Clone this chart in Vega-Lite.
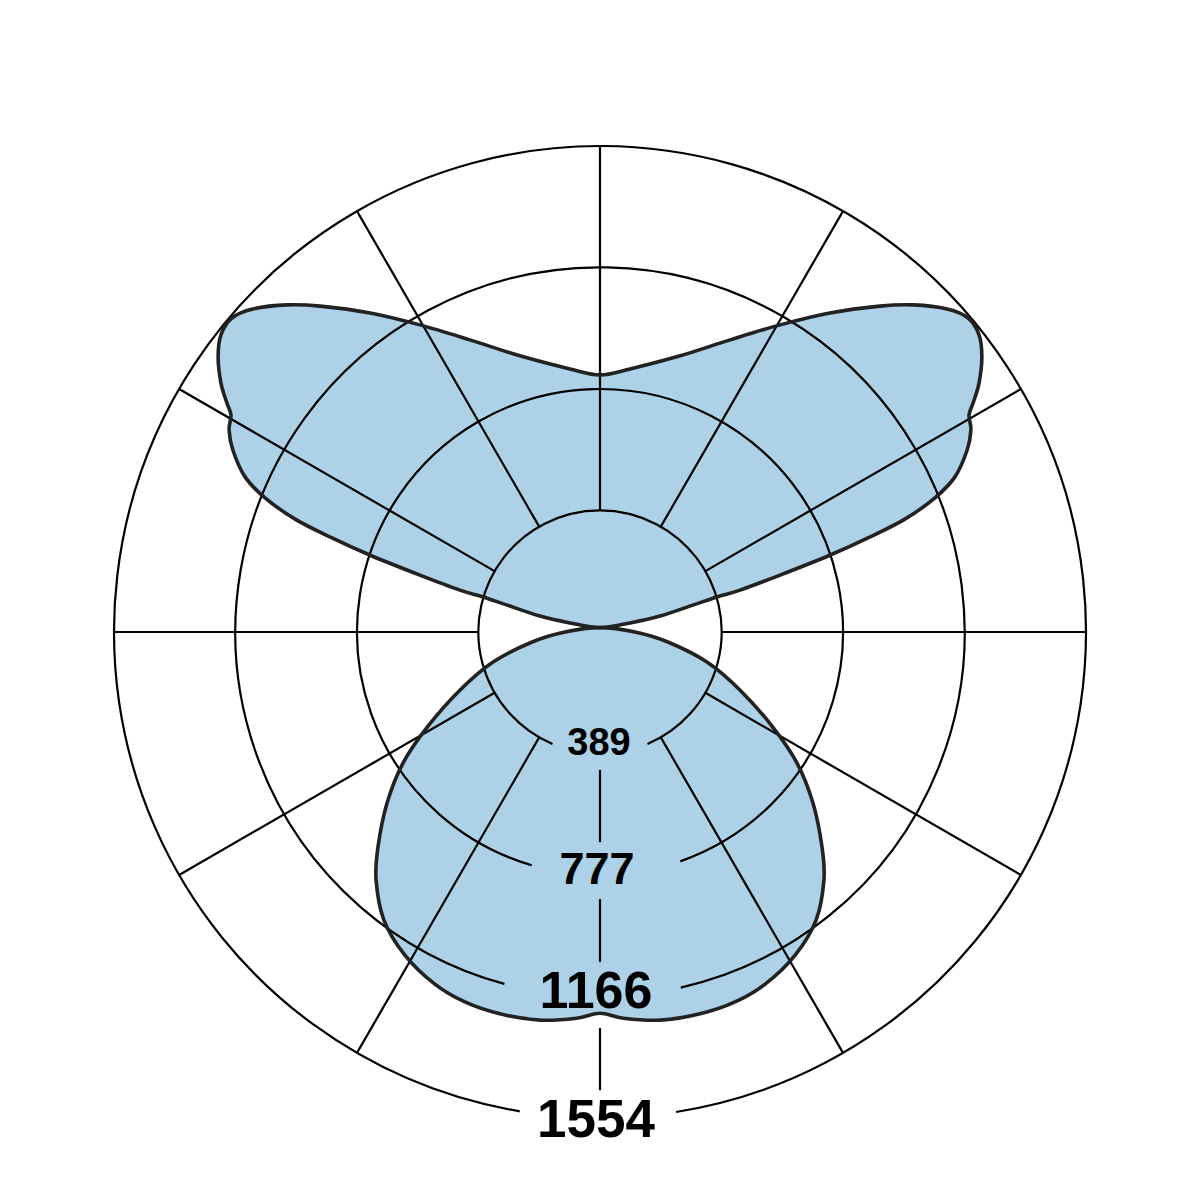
{
  "$schema": "https://vega.github.io/schema/vega-lite/v6.json",
  "width": 1201,
  "height": 1201,
  "padding": 0,
  "autosize": {"type": "none"},
  "background": "white",
  "config": {"view": {"stroke": null}},
  "datasets": {
    "curve": [
      {"lobe": "upper", "i": 0, "x": 0, "y": 14},
      {"lobe": "upper", "i": 1, "x": -96, "y": 29},
      {"lobe": "upper", "i": 2, "x": -192, "y": 51},
      {"lobe": "upper", "i": 3, "x": -297, "y": 86},
      {"lobe": "upper", "i": 4, "x": -374, "y": 112},
      {"lobe": "upper", "i": 5, "x": -448, "y": 134},
      {"lobe": "upper", "i": 6, "x": -576, "y": 182},
      {"lobe": "upper", "i": 7, "x": -729, "y": 243},
      {"lobe": "upper", "i": 8, "x": -857, "y": 301},
      {"lobe": "upper", "i": 9, "x": -975, "y": 361},
      {"lobe": "upper", "i": 10, "x": -1071, "y": 429},
      {"lobe": "upper", "i": 11, "x": -1135, "y": 496},
      {"lobe": "upper", "i": 12, "x": -1174, "y": 582},
      {"lobe": "upper", "i": 13, "x": -1186, "y": 646},
      {"lobe": "upper", "i": 14, "x": -1180, "y": 694},
      {"lobe": "upper", "i": 15, "x": -1193, "y": 732},
      {"lobe": "upper", "i": 16, "x": -1212, "y": 796},
      {"lobe": "upper", "i": 17, "x": -1221, "y": 879},
      {"lobe": "upper", "i": 18, "x": -1212, "y": 950},
      {"lobe": "upper", "i": 19, "x": -1177, "y": 1004},
      {"lobe": "upper", "i": 20, "x": -1110, "y": 1033},
      {"lobe": "upper", "i": 21, "x": -1001, "y": 1046},
      {"lobe": "upper", "i": 22, "x": -895, "y": 1042},
      {"lobe": "upper", "i": 23, "x": -735, "y": 1020},
      {"lobe": "upper", "i": 24, "x": -576, "y": 982},
      {"lobe": "upper", "i": 25, "x": -416, "y": 934},
      {"lobe": "upper", "i": 26, "x": -256, "y": 883},
      {"lobe": "upper", "i": 27, "x": -96, "y": 841},
      {"lobe": "upper", "i": 28, "x": 0, "y": 822},
      {"lobe": "upper", "i": 29, "x": 96, "y": 841},
      {"lobe": "upper", "i": 30, "x": 256, "y": 883},
      {"lobe": "upper", "i": 31, "x": 416, "y": 934},
      {"lobe": "upper", "i": 32, "x": 576, "y": 982},
      {"lobe": "upper", "i": 33, "x": 735, "y": 1020},
      {"lobe": "upper", "i": 34, "x": 895, "y": 1042},
      {"lobe": "upper", "i": 35, "x": 1001, "y": 1046},
      {"lobe": "upper", "i": 36, "x": 1110, "y": 1033},
      {"lobe": "upper", "i": 37, "x": 1177, "y": 1004},
      {"lobe": "upper", "i": 38, "x": 1212, "y": 950},
      {"lobe": "upper", "i": 39, "x": 1221, "y": 879},
      {"lobe": "upper", "i": 40, "x": 1212, "y": 796},
      {"lobe": "upper", "i": 41, "x": 1193, "y": 732},
      {"lobe": "upper", "i": 42, "x": 1180, "y": 694},
      {"lobe": "upper", "i": 43, "x": 1186, "y": 646},
      {"lobe": "upper", "i": 44, "x": 1174, "y": 582},
      {"lobe": "upper", "i": 45, "x": 1135, "y": 496},
      {"lobe": "upper", "i": 46, "x": 1071, "y": 429},
      {"lobe": "upper", "i": 47, "x": 975, "y": 361},
      {"lobe": "upper", "i": 48, "x": 857, "y": 301},
      {"lobe": "upper", "i": 49, "x": 729, "y": 243},
      {"lobe": "upper", "i": 50, "x": 576, "y": 182},
      {"lobe": "upper", "i": 51, "x": 448, "y": 134},
      {"lobe": "upper", "i": 52, "x": 374, "y": 112},
      {"lobe": "upper", "i": 53, "x": 297, "y": 86},
      {"lobe": "upper", "i": 54, "x": 192, "y": 51},
      {"lobe": "upper", "i": 55, "x": 96, "y": 29},
      {"lobe": "lower", "i": 0, "x": 0, "y": 14},
      {"lobe": "lower", "i": 1, "x": 112, "y": 0},
      {"lobe": "lower", "i": 2, "x": 217, "y": -32},
      {"lobe": "lower", "i": 3, "x": 342, "y": -96},
      {"lobe": "lower", "i": 4, "x": 448, "y": -186},
      {"lobe": "lower", "i": 5, "x": 550, "y": -301},
      {"lobe": "lower", "i": 6, "x": 630, "y": -419},
      {"lobe": "lower", "i": 7, "x": 681, "y": -547},
      {"lobe": "lower", "i": 8, "x": 710, "y": -688},
      {"lobe": "lower", "i": 9, "x": 716, "y": -793},
      {"lobe": "lower", "i": 10, "x": 691, "y": -921},
      {"lobe": "lower", "i": 11, "x": 624, "y": -1033},
      {"lobe": "lower", "i": 12, "x": 528, "y": -1126},
      {"lobe": "lower", "i": 13, "x": 432, "y": -1183},
      {"lobe": "lower", "i": 14, "x": 320, "y": -1221},
      {"lobe": "lower", "i": 15, "x": 192, "y": -1241},
      {"lobe": "lower", "i": 16, "x": 75, "y": -1235},
      {"lobe": "lower", "i": 17, "x": 0, "y": -1219},
      {"lobe": "lower", "i": 18, "x": -75, "y": -1235},
      {"lobe": "lower", "i": 19, "x": -192, "y": -1241},
      {"lobe": "lower", "i": 20, "x": -320, "y": -1221},
      {"lobe": "lower", "i": 21, "x": -432, "y": -1183},
      {"lobe": "lower", "i": 22, "x": -528, "y": -1126},
      {"lobe": "lower", "i": 23, "x": -624, "y": -1033},
      {"lobe": "lower", "i": 24, "x": -691, "y": -921},
      {"lobe": "lower", "i": 25, "x": -716, "y": -793},
      {"lobe": "lower", "i": 26, "x": -710, "y": -688},
      {"lobe": "lower", "i": 27, "x": -681, "y": -547},
      {"lobe": "lower", "i": 28, "x": -630, "y": -419},
      {"lobe": "lower", "i": 29, "x": -550, "y": -301},
      {"lobe": "lower", "i": 30, "x": -448, "y": -186},
      {"lobe": "lower", "i": 31, "x": -342, "y": -96},
      {"lobe": "lower", "i": 32, "x": -217, "y": -32},
      {"lobe": "lower", "i": 33, "x": -112, "y": 0}
    ],
    "rings": [
      {"r": 389, "t1": 203, "t2": 517, "label": "389", "nadir": -389},
      {"r": 777, "t1": 196.3, "t2": 520.7, "label": "777", "nadir": -777},
      {"r": 1166, "t1": 195.2, "t2": 527.2, "label": "1166", "nadir": -1166},
      {"r": 1554, "t1": 189.5, "t2": 531, "label": "1554", "nadir": -1554}
    ],
    "spokes": [
      {"x1": 194.5, "y1": -336.9, "x2": 777, "y2": -1345.8},
      {"x1": 336.9, "y1": -194.5, "x2": 1345.8, "y2": -777},
      {"x1": 389, "y1": 0, "x2": 1554, "y2": 0},
      {"x1": 336.9, "y1": 194.5, "x2": 1345.8, "y2": 777},
      {"x1": 194.5, "y1": 336.9, "x2": 777, "y2": 1345.8},
      {"x1": 0, "y1": 389, "x2": 0, "y2": 1554},
      {"x1": -194.5, "y1": 336.9, "x2": -777, "y2": 1345.8},
      {"x1": -336.9, "y1": 194.5, "x2": -1345.8, "y2": 777},
      {"x1": -389, "y1": 0, "x2": -1554, "y2": 0},
      {"x1": -336.9, "y1": -194.5, "x2": -1345.8, "y2": -777},
      {"x1": -194.5, "y1": -336.9, "x2": -777, "y2": -1345.8},
      {"x1": 0, "y1": -441, "x2": 0, "y2": -672},
      {"x1": 0, "y1": -854, "x2": 0, "y2": -1055},
      {"x1": 0, "y1": -1266, "x2": 0, "y2": -1465}
    ]
  },
  "layer": [
    {
      "data": {"name": "curve"},
      "mark": {"type": "line", "interpolate": "cardinal-closed", "fill": "#ADD1E6", "stroke": null},
      "encoding": {
        "x": {"field": "x", "type": "quantitative", "axis": null, "scale": {"domain": [-1918.5, 1921.7], "nice": false, "zero": false}},
        "y": {"field": "y", "type": "quantitative", "axis": null, "scale": {"domain": [-1819.4, 2020.8], "nice": false, "zero": false}},
        "detail": {"field": "lobe"},
        "order": {"field": "i", "type": "quantitative"}
      }
    },
    {
      "data": {"name": "rings"},
      "mark": {"type": "arc", "filled": false, "stroke": "#000000", "strokeWidth": 2.2},
      "encoding": {
        "x": {"datum": 0, "type": "quantitative"},
        "y": {"datum": 0, "type": "quantitative"},
        "theta": {"field": "t1", "type": "quantitative", "scale": {"domain": [0, 360], "range": [0, 6.283185], "nice": false, "zero": false}},
        "theta2": {"field": "t2"},
        "radius": {"field": "r", "type": "quantitative", "scale": {"type": "linear", "domain": [0, 1920.1], "range": [0, 600.5], "nice": false, "zero": true}},
        "radius2": {"field": "r"}
      }
    },
    {
      "data": {"name": "spokes"},
      "mark": {"type": "rule", "stroke": "#000000", "strokeWidth": 2.2},
      "encoding": {
        "x": {"field": "x1", "type": "quantitative"},
        "y": {"field": "y1", "type": "quantitative"},
        "x2": {"field": "x2"},
        "y2": {"field": "y2"}
      }
    },
    {
      "data": {"name": "curve"},
      "mark": {"type": "line", "interpolate": "cardinal-closed", "stroke": "#222222", "strokeWidth": 3.6},
      "encoding": {
        "x": {"field": "x", "type": "quantitative"},
        "y": {"field": "y", "type": "quantitative"},
        "detail": {"field": "lobe"},
        "order": {"field": "i", "type": "quantitative"}
      }
    },
    {
      "data": {"name": "rings"},
      "transform": [{"filter": "datum.r == 389"}],
      "mark": {"type": "text", "font": "Liberation Sans", "fontWeight": "bold", "fontSize": 38, "color": "#000000", "align": "center", "baseline": "middle", "dx": -1, "dy": -10},
      "encoding": {
        "x": {"datum": 0, "type": "quantitative"},
        "y": {"field": "nadir", "type": "quantitative"},
        "text": {"field": "label"}
      }
    },
    {
      "data": {"name": "rings"},
      "transform": [{"filter": "datum.r == 777"}],
      "mark": {"type": "text", "font": "Liberation Sans", "fontWeight": "bold", "fontSize": 45, "color": "#000000", "align": "center", "baseline": "middle", "dx": -3, "dy": -4.5},
      "encoding": {
        "x": {"datum": 0, "type": "quantitative"},
        "y": {"field": "nadir", "type": "quantitative"},
        "text": {"field": "label"}
      }
    },
    {
      "data": {"name": "rings"},
      "transform": [{"filter": "datum.r == 1166"}],
      "mark": {"type": "text", "font": "Liberation Sans", "fontWeight": "bold", "fontSize": 52, "color": "#000000", "align": "center", "baseline": "middle", "dx": -4, "dy": -5},
      "encoding": {
        "x": {"datum": 0, "type": "quantitative"},
        "y": {"field": "nadir", "type": "quantitative"},
        "text": {"field": "label"}
      }
    },
    {
      "data": {"name": "rings"},
      "transform": [{"filter": "datum.r == 1554"}],
      "mark": {"type": "text", "font": "Liberation Sans", "fontWeight": "bold", "fontSize": 53, "color": "#000000", "align": "center", "baseline": "middle", "dx": -4, "dy": 3.5},
      "encoding": {
        "x": {"datum": 0, "type": "quantitative"},
        "y": {"field": "nadir", "type": "quantitative"},
        "text": {"field": "label"}
      }
    }
  ]
}
